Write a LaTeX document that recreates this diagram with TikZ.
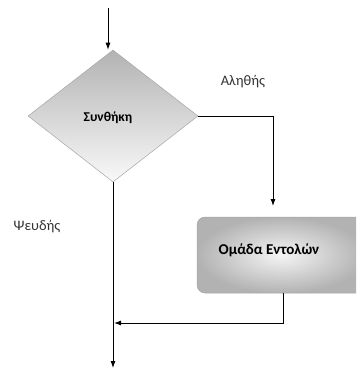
\documentclass[tikz,border=0pt]{standalone}
\usepackage{fontspec}
\setmainfont{Carlito}
\usetikzlibrary{shapes.geometric,arrows.meta}
\begin{document}
\begin{tikzpicture}[x=1pt,y=1pt,
  flow/.style={line width=0.9pt,black},
  tip/.style={-{Latex[length=7pt,width=5pt]}},
  lbl/.style={font=\fontsize{14.5}{17}\selectfont,text=black!80},
  bold/.style={font=\bfseries\fontsize{14.5}{17}\selectfont}]
\clip (0,0) rectangle (356,-369);
\useasboundingbox (0,0) rectangle (356,-369);
% decision
\node[diamond,draw=gray!70,line width=0.5pt,top color=gray!60,bottom color=gray!5,
  minimum width=170pt,minimum height=132pt,inner sep=0pt,aspect=1.29] (cond) at (113,-116) {};
\node[bold,font=\bfseries\fontsize{13.5}{16}\selectfont] (condtxt) at (108,-118) {Συνθήκη};
% process box
\node[draw=gray!70,line width=0.5pt,rounded corners=8pt,inner color=gray!8,outer color=gray!60,
  minimum width=168pt,minimum height=76pt,inner sep=0pt] (box) at (281,-255) {};
\node[bold,font=\bfseries\fontsize{15}{18}\selectfont] (boxtxt) at (269,-250) {Ομάδα Εντολών};
% labels
\node[lbl] (true) at (243,-82) {Αληθής};
\node[lbl] (false) at (37,-227) {Ψευδής};
% coordinates
\coordinate (in) at (108,-8);
\coordinate (tipr) at (273,-206);
\coordinate (out) at (cond.south |- 0,-368);
\coordinate (boxout) at (283,-293);
\coordinate (join) at (cond.south |- 0,-323);
% connectors
\draw[flow,tip] (in) -- (in |- cond.north);
\draw[flow,tip] (cond.east) -| (tipr);
\draw[flow,tip] (cond.south) -- (out);
\draw[flow,tip] (boxout) |- ([xshift=1pt]join);
\end{tikzpicture}
\end{document}
